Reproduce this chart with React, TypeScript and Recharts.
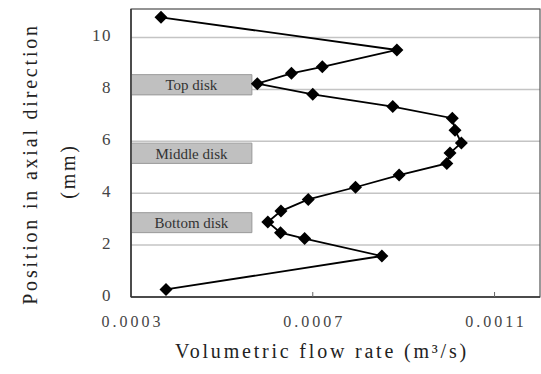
import { CartesianGrid, ComposedChart, ReferenceArea, Scatter, XAxis, YAxis } from "recharts"

// volumetric flow rate (m3/s) vs position along the axis (mm)
const flowRate = [
    0.000366, 0.000885, 0.000721, 0.000653, 0.000578, 0.0007, 0.000876, 0.001007, 0.001013, 0.001027, 0.001002,
    0.000995, 0.00089, 0.000794, 0.00069, 0.00063, 0.000601, 0.000629, 0.000682, 0.000852, 0.000377,
]
const position = [
    10.78, 9.52, 8.87, 8.62, 8.22, 7.81, 7.34, 6.89, 6.43, 5.94, 5.55, 5.15, 4.7, 4.23, 3.76, 3.31, 2.89, 2.48, 2.25,
    1.58, 0.29,
]

const xTicks = [0.0003, 0.0007, 0.0011]
const yTicks = [0, 2, 4, 6, 8, 10]

const diskNames = ["Top disk", "Middle disk", "Bottom disk"]
const diskBottom = [7.79, 5.15, 2.48]
const diskTop = [8.57, 5.93, 3.25]
const diskEnd = 0.000566

const data = flowRate.map((x, i) => ({ x, y: position[i] }))

const serif = "'Liberation Serif', 'DejaVu Serif'"

const Diamond = (props: any) => {
    const { cx, cy } = props
    const r = 6.5
    return <polygon points={`${cx},${cy - r} ${cx + r},${cy} ${cx},${cy + r} ${cx - r},${cy}`} fill="#000" />
}

const XTick = (props: any) => {
    const { x, y, payload } = props
    const axisY = y - 26
    return (
        <g>
            {payload.value > 0.0003 && <line x1={x} x2={x} y1={axisY} y2={axisY - 5} stroke="#666" />}
            <text x={x + 1.5} y={y} textAnchor="middle" dominantBaseline="middle"
                style={{ fontFamily: serif, fontSize: 16, letterSpacing: 3 }} fill="#444">
                {payload.value.toFixed(4)}
            </text>
        </g>
    )
}

const YTick = (props: any) => {
    const { x, y, payload } = props
    return (
        <text x={x - 1} y={y} textAnchor="end" dominantBaseline="middle"
            style={{ fontFamily: serif, fontSize: 17, letterSpacing: 1.5 }} fill="#444">
            {payload.value}
        </text>
    )
}

export default function App() {
    return (
        <div style={{ position: "absolute", left: 0, top: 0, background: "#fff", fontFamily: serif }}>
            <ComposedChart width={541} height={374} data={data} margin={{ top: 9, right: 1, bottom: 0, left: 0 }}>
                <CartesianGrid horizontal vertical={false} stroke="#c4c4c4" strokeWidth={1.5} />
                <XAxis type="number" dataKey="x" domain={[0.0003, 0.0012]} ticks={xTicks} height={77}
                    axisLine={{ stroke: "#333", strokeWidth: 1.5 }} tickLine={false} tickSize={0} tickMargin={26}
                    tick={<XTick />}
                    label={{
                        content: () => (
                            <text x={322} y={353} textAnchor="middle" dominantBaseline="middle"
                                style={{ fontFamily: serif, fontSize: 20, letterSpacing: 2.8 }} fill="#222">
                                Volumetric flow rate (m³/s)
                            </text>
                        ),
                    }} />
                <YAxis type="number" dataKey="y" domain={[0, 11.1]} ticks={yTicks} width={131}
                    axisLine={{ stroke: "#333", strokeWidth: 1.5 }} tickLine={false} tickSize={0} tickMargin={18}
                    tick={<YTick />}
                    label={{
                        content: () => (
                            <g style={{ fontFamily: serif, fontSize: 20, letterSpacing: 2.8 }} fill="#222"
                                textAnchor="middle">
                                <text x={32} y={164} dominantBaseline="middle" transform="rotate(-90 32 164)">
                                    Position in axial direction
                                </text>
                                <text x={70} y={171} dominantBaseline="middle" transform="rotate(-90 70 171)">
                                    (mm)
                                </text>
                            </g>
                        ),
                    }} />
                <ReferenceArea x1={0.0003} x2={0.0012} y1={0} y2={11.1} fill="none" stroke="#555" strokeWidth={1.2}
                    ifOverflow="visible" />
                {diskNames.map((name, i) => (
                    <ReferenceArea key={name} x1={0.0003} x2={diskEnd} y1={diskBottom[i]} y2={diskTop[i]}
                        fill="#c0c0c0" fillOpacity={1} stroke="#999"
                        label={{
                            value: name, position: "center", fill: "#333",
                            style: { fontFamily: serif, fontSize: 15 },
                        }} />
                ))}
                <Scatter dataKey="y" line={{ stroke: "#000", strokeWidth: 1.8 }} shape={<Diamond />}
                    isAnimationActive={false} />
            </ComposedChart>
        </div>
    )
}
